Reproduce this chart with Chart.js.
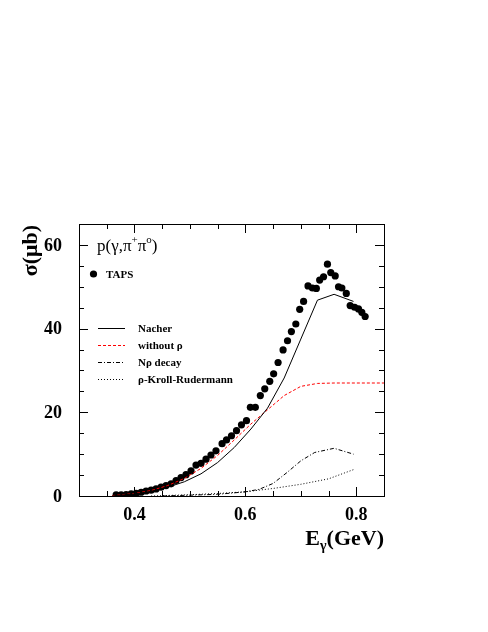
<!DOCTYPE html>
<html>
<head>
<meta charset="utf-8">
<script src="https://cdn.jsdelivr.net/npm/chart.js"></script>
<style>
  body { margin: 0; background: #fff; }
  canvas { display: block; }
</style>
</head>
<body>
<canvas id="chart" width="488" height="632"></canvas>
<script>
// TAPS data points
const tapsE = [0.367, 0.376, 0.385, 0.394, 0.403, 0.412, 0.421, 0.430, 0.439, 0.448,
  0.457, 0.466, 0.475, 0.484, 0.493, 0.502, 0.511, 0.520, 0.529, 0.538,
  0.547, 0.558, 0.566, 0.575, 0.584, 0.593, 0.602, 0.609, 0.618, 0.627,
  0.635, 0.644, 0.651, 0.659, 0.668, 0.676, 0.683, 0.691, 0.698, 0.705,
  0.713, 0.721, 0.728, 0.734, 0.741, 0.748, 0.754, 0.762, 0.768, 0.774,
  0.782, 0.789, 0.797, 0.804, 0.810, 0.816]
const tapsSigma = [0.25, 0.3, 0.35, 0.5, 0.65, 0.9, 1.2, 1.4, 1.7, 2.1,
  2.5, 2.9, 3.7, 4.4, 5.1, 6.0, 7.4, 7.8, 8.8, 9.8,
  10.8, 12.5, 13.4, 14.4, 15.6, 17.0, 18.0, 21.2, 21.2, 24.0,
  25.6, 27.4, 29.2, 31.9, 34.9, 37.1, 39.3, 41.1, 44.6, 46.5,
  50.2, 49.7, 49.6, 51.6, 52.4, 55.4, 53.4, 52.6, 50.0, 49.7,
  48.4, 45.5, 45.1, 44.7, 43.9, 42.9]

// Nacher model (full)
const nacherE = [0.36, 0.37, 0.40, 0.43, 0.46, 0.49, 0.52, 0.55, 0.58, 0.61, 0.64, 0.67, 0.70, 0.73, 0.76, 0.795]
const nacherSigma = [0, 0.15, 0.5, 1.1, 2.1, 3.4, 5.3, 8.0, 11.6, 16.0, 21.0, 28.2, 37.5, 46.8, 48.2, 46.5]

// without rho
const noRhoE = [0.36, 0.40, 0.43, 0.46, 0.49, 0.52, 0.55, 0.58, 0.61, 0.64, 0.67, 0.70, 0.73, 0.76, 0.85]
const noRhoSigma = [0.1, 0.6, 1.3, 2.5, 4.2, 6.6, 9.7, 13.4, 17.2, 20.6, 24.0, 26.2, 26.9, 27.0, 27.0]

// N rho decay
const nRhoE = [0.45, 0.55, 0.60, 0.625, 0.65, 0.675, 0.70, 0.725, 0.76, 0.795]
const nRhoSigma = [0.0, 0.4, 1.0, 1.6, 3.0, 5.6, 8.4, 10.4, 11.4, 10.0]

// rho Kroll-Rudermann
const krE = [0.43, 0.50, 0.55, 0.60, 0.65, 0.70, 0.75, 0.795]
const krSigma = [0.0, 0.3, 0.6, 1.0, 1.8, 2.8, 4.1, 6.3]

const xTicks = [0.4, 0.6, 0.8]
const xTickLabels = ['0.4', '0.6', '0.8']
const yTicks = [0, 20, 40, 60]
const yTickLabels = ['0', '20', '40', '60']

const legendNames = ['Nacher', 'without \u03c1', 'N\u03c1 decay', '\u03c1-Kroll-Rudermann']
const lineColors = ['#000000', '#ff0000', '#000000', '#000000']
const lineDashes = [[], [3, 2], [4, 2, 1, 2], [1, 2]]

function pts(xs, ys) {
  return xs.map((x, i) => ({ x: x, y: ys[i] }))
}

function lineSet(i, xs, ys) {
  return {
    type: 'line', label: legendNames[i], data: pts(xs, ys),
    borderColor: lineColors[i], borderWidth: 1, borderDash: lineDashes[i],
    pointRadius: 0, tension: 0, fill: false, order: i + 1
  }
}

const serif = '"Liberation Serif", "Times New Roman", serif'

const frame = {
  id: 'frame',
  afterDraw(chart) {
    const ctx = chart.ctx
    const a = chart.chartArea
    const xs = chart.scales.x
    const ys = chart.scales.y
    ctx.save()
    ctx.strokeStyle = '#000'
    ctx.lineWidth = 1
    ctx.setLineDash([])
    ctx.strokeRect(a.left + 0.5, a.top + 0.5, a.right - a.left, a.bottom - a.top)

    // x ticks, inside, top and bottom
    ctx.beginPath()
    for (let v = 0.35; v < 0.849; v += 0.05) {
      const px = Math.round(xs.getPixelForValue(v)) + 0.5
      const major = xTicks.some(t => Math.abs(t - v) < 0.001)
      const len = major ? 9 : 5
      ctx.moveTo(px, a.bottom); ctx.lineTo(px, a.bottom - len)
      ctx.moveTo(px, a.top); ctx.lineTo(px, a.top + len)
    }
    // y ticks, inside, left and right
    for (let v = 5; v < 65; v += 5) {
      const py = Math.round(ys.getPixelForValue(v)) + 0.5
      const len = v % 20 === 0 ? 9 : 5
      ctx.moveTo(a.left, py); ctx.lineTo(a.left + len, py)
      ctx.moveTo(a.right, py); ctx.lineTo(a.right - len, py)
    }
    ctx.stroke()

    ctx.fillStyle = '#000'
    ctx.font = 'bold 18px ' + serif
    ctx.textAlign = 'center'
    ctx.textBaseline = 'alphabetic'
    xTicks.forEach((t, i) => {
      ctx.fillText(xTickLabels[i], xs.getPixelForValue(t), 520)
    })
    ctx.textAlign = 'right'
    ctx.textBaseline = 'middle'
    yTicks.forEach((t, i) => {
      ctx.fillText(yTickLabels[i], 62, ys.getPixelForValue(t) + 1)
    })

    // axis titles
    ctx.textBaseline = 'alphabetic'
    ctx.font = 'bold 22px ' + serif
    const w1 = ctx.measureText('E').width
    const w3 = ctx.measureText('(GeV)').width
    ctx.font = 'bold 14px ' + serif
    const w2 = ctx.measureText('\u03b3').width
    let x0 = a.right - (w1 + w2 + w3)
    ctx.textAlign = 'left'
    ctx.font = 'bold 22px ' + serif
    ctx.fillText('E', x0, 545)
    ctx.font = 'bold 14px ' + serif
    ctx.fillText('\u03b3', x0 + w1, 550)
    ctx.font = 'bold 22px ' + serif
    ctx.fillText('(GeV)', x0 + w1 + w2, 545)

    ctx.save()
    ctx.translate(37, a.top + 1)
    ctx.rotate(-Math.PI / 2)
    ctx.textAlign = 'right'
    ctx.fillText('\u03c3(\u03bcb)', 0, 0)
    ctx.restore()

    // reaction label
    let tx = 97
    const parts = [['p(\u03b3,\u03c0', 0], ['+', 1], ['\u03c0', 0], ['o', 1], [')', 0]]
    parts.forEach(p => {
      ctx.font = (p[1] ? '11px ' : '17px ') + serif
      ctx.fillText(p[0], tx, p[1] ? 243 : 251)
      tx += ctx.measureText(p[0]).width
    })

    // legend
    ctx.beginPath()
    ctx.arc(93.5, 274, 3.6, 0, Math.PI * 2)
    ctx.fill()
    ctx.font = 'bold 11px ' + serif
    ctx.fillText('TAPS', 106, 278)

    const legendY = [328, 345, 361.5, 378.5]
    legendNames.forEach((name, i) => {
      ctx.beginPath()
      ctx.strokeStyle = lineColors[i]
      ctx.setLineDash(lineDashes[i])
      ctx.moveTo(98, Math.round(legendY[i]) + 0.5)
      ctx.lineTo(125, Math.round(legendY[i]) + 0.5)
      ctx.stroke()
      ctx.fillText(name, 138, legendY[i] + 4)
    })
    ctx.restore()
  }
}

new Chart(document.getElementById('chart'), {
  type: 'scatter',
  data: {
    datasets: [
      {
        label: 'TAPS', data: pts(tapsE, tapsSigma),
        backgroundColor: '#000', borderWidth: 0,
        pointRadius: 3.6, pointStyle: 'circle', order: 5
      },
      lineSet(0, nacherE, nacherSigma),
      lineSet(1, noRhoE, noRhoSigma),
      lineSet(2, nRhoE, nRhoSigma),
      lineSet(3, krE, krSigma)
    ]
  },
  options: {
    responsive: false,
    devicePixelRatio: 1,
    animation: false,
    layout: { padding: { left: 79, right: 104, top: 224, bottom: 136 } },
    scales: {
      x: { type: 'linear', min: 0.3, max: 0.85, display: false },
      y: { type: 'linear', min: 0, max: 65, display: false }
    },
    plugins: { legend: { display: false }, tooltip: { enabled: false } }
  },
  plugins: [frame]
})
</script>
</body>
</html>
